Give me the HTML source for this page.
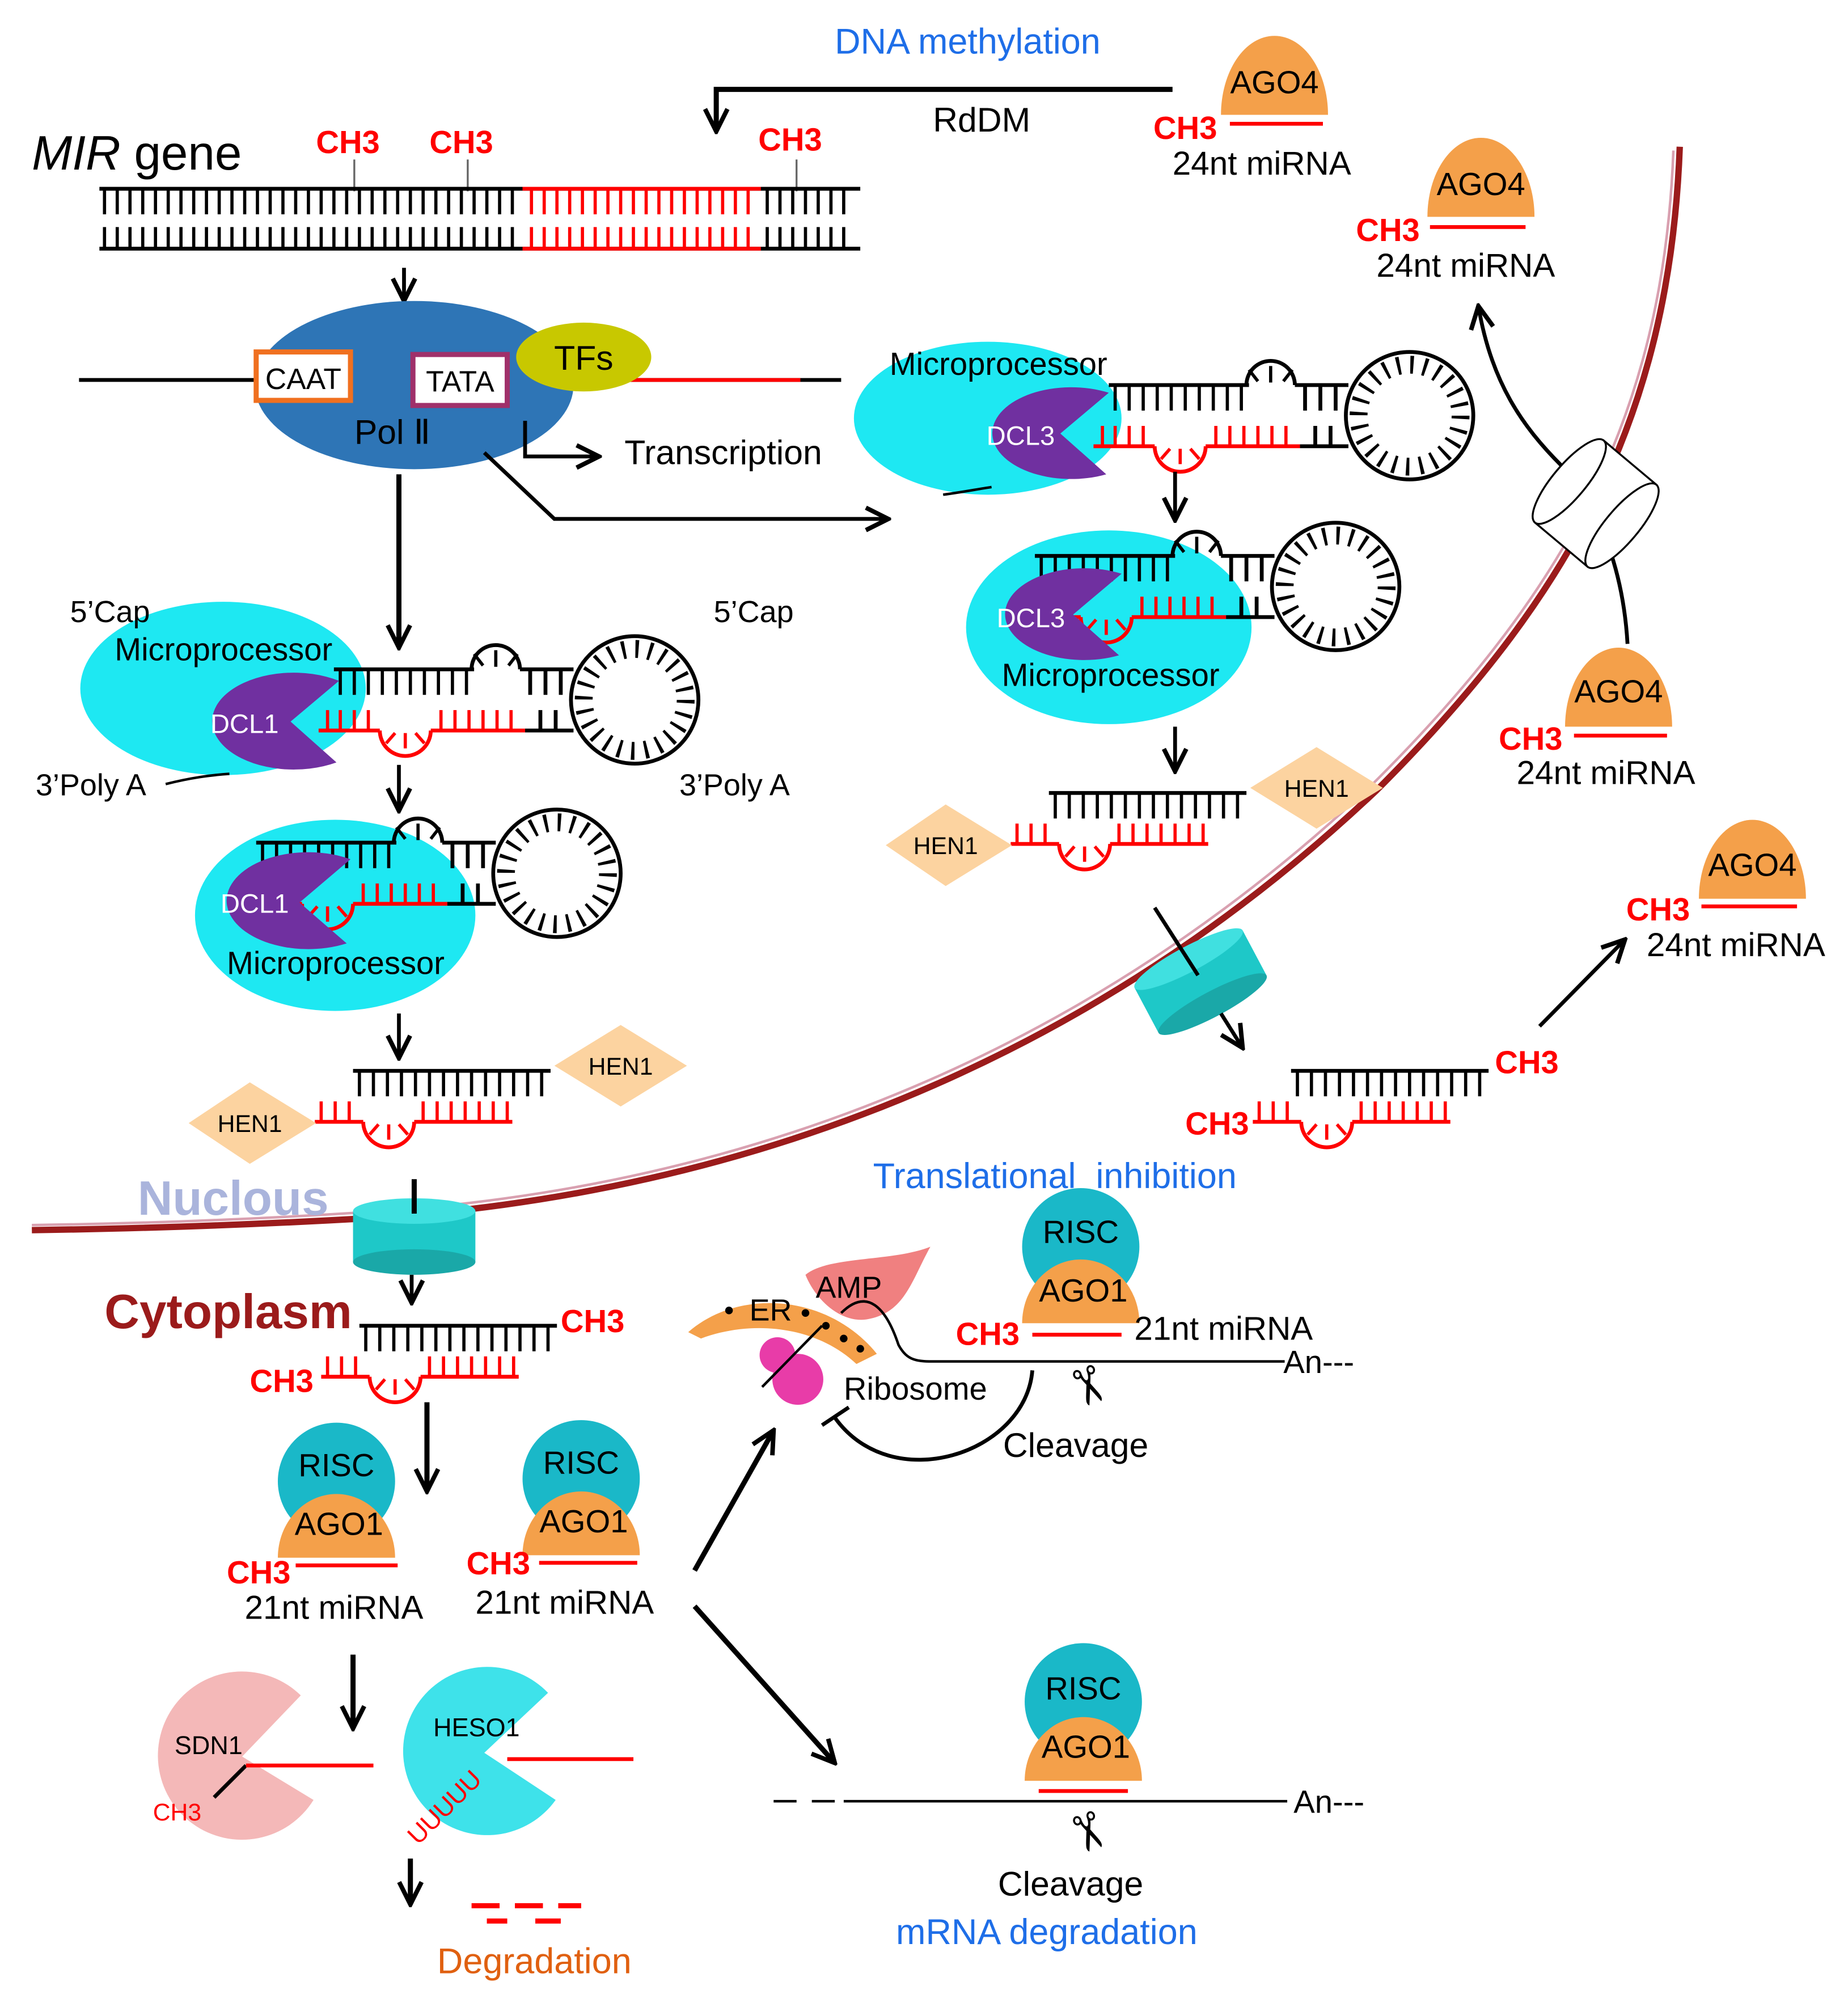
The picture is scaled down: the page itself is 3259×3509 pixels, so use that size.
<!DOCTYPE html>
<html><head><meta charset="utf-8"><style>
html,body{margin:0;padding:0;background:#fff;}
svg{display:block;}
text{font-family:"Liberation Sans",sans-serif;}
</style></head><body>
<svg width="3259" height="3509" viewBox="0 0 1450 1561" xmlns="http://www.w3.org/2000/svg">
<defs>
<marker id="arL" viewBox="0 0 10 10" markerWidth="22" markerHeight="22" refX="9" refY="5" orient="auto" markerUnits="userSpaceOnUse"><path d="M1,1 L9,5 L1,9" fill="none" stroke="#000" stroke-width="1.6"/></marker>
<g id="hp" fill="none" stroke-width="3">
<path d="M0,0H110" stroke="#000"/>
<path d="M5,0v20M16,0v20M27,0v20M38,0v20M49,0v20M60,0v20M71,0v20M82,0v20M93,0v20M104,0v20" stroke="#000" stroke-width="2.5"/>
<path d="M108,0 A19,19 0 0,1 146,0" stroke="#000"/>
<path d="M127,-2v-13M117,-3l-7,-9M137,-3l7,-9" stroke="#000" stroke-width="2.5"/>
<path d="M146,0H188M154,0v20M166,0v20M178,0v20" stroke="#000"/>
<circle cx="236" cy="24" r="50" stroke="#000"/>
<circle cx="236" cy="24" r="40" stroke="#000" stroke-width="14" stroke-dasharray="2.5 8"/>
<path d="M-12,48H36M76,48H150" stroke="#f00"/>
<path d="M-5,48v-16M5,48v-16M16,48v-16M27,48v-16M84,48v-16M95,48v-16M106,48v-16M117,48v-16M128,48v-16M139,48v-16" stroke="#f00" stroke-width="2.5"/>
<path d="M36,48 A20,20 0 0,0 76,48" stroke="#f00"/>
<path d="M56,50v12M48,50l-7,8M64,50l7,8" stroke="#f00" stroke-width="2.5"/>
<path d="M150,48H188M162,48v-16M174,48v-16" stroke="#000"/>
</g>
<g id="dx" fill="none" stroke-width="3">
<path d="M0,0H155" stroke="#000"/>
<path d="M5,0v20M16,0v20M27,0v20M38,0v20M49,0v20M60,0v20M71,0v20M82,0v20M93,0v20M104,0v20M115,0v20M126,0v20M137,0v20M148,0v20" stroke="#000" stroke-width="2.5"/>
<path d="M-30,40H8M48,40H125" stroke="#f00"/>
<path d="M-25,40v-16M-14,40v-16M-3,40v-16M55,40v-16M66,40v-16M77,40v-16M88,40v-16M99,40v-16M110,40v-16M121,40v-16" stroke="#f00" stroke-width="2.5"/>
<path d="M8,40 A20,20 0 0,0 48,40" stroke="#f00"/>
<path d="M28,42v12M20,42l-7,8M36,42l7,8" stroke="#f00" stroke-width="2.5"/>
</g>
</defs>

<path d="M1318,115 C1310,330 1230,470 1080,620 C900,790 650,930 300,955 C180,962 90,964 25,965" fill="none" stroke="#9b1b1b" stroke-width="5"/>
<path d="M1313,118 C1305,330 1225,468 1076,616 C896,786 646,926 300,950 C180,958 90,960 25,961" fill="none" stroke="#d9a0b0" stroke-width="2"/>

<text x="655" y="42" font-size="28" fill="#1e6ee8">DNA methylation</text>
<path d="M920,70H562V103" fill="none" stroke="#000" stroke-width="4" marker-end="url(#arL)"/>
<text x="732" y="103" font-size="27">RdDM</text>

<path d="M958,90 A42,62 0 0,1 1042,90 Z" fill="#f4a04a"/>
<text x="1000" y="73" font-size="25" text-anchor="middle">AGO4</text>
<path d="M965,97H1038" stroke="#f00" stroke-width="3"/>
<text x="905" y="109" font-size="25" fill="#f00" font-weight="bold">CH3</text>
<text x="920" y="137" font-size="26">24nt miRNA</text>

<path d="M1120,170 A42,62 0 0,1 1204,170 Z" fill="#f4a04a"/>
<text x="1162" y="153" font-size="25" text-anchor="middle">AGO4</text>
<path d="M1122,178H1197" stroke="#f00" stroke-width="3"/>
<text x="1064" y="189" font-size="25" fill="#f00" font-weight="bold">CH3</text>
<text x="1080" y="217" font-size="26">24nt miRNA</text>

<text x="25" y="133" font-size="38"><tspan font-style="italic">MIR</tspan> gene</text>
<text x="248" y="120" font-size="25" fill="#f00" font-weight="bold">CH3</text>
<text x="337" y="120" font-size="25" fill="#f00" font-weight="bold">CH3</text>
<text x="595" y="118" font-size="25" fill="#f00" font-weight="bold">CH3</text>
<path d="M278,125V150M367,125V150M625,125V150" stroke="#666" stroke-width="1.5"/>
<path d="M78,148H675M78,195H675" stroke="#000" stroke-width="3"/>
<path d="M410,148H597M410,195H597" stroke="#f00" stroke-width="3"/>
<path d="M82,148v20M92,148v20M102,148v20M112,148v20M122,148v20M132,148v20M142,148v20M152,148v20M162,148v20M172,148v20M182,148v20M192,148v20M202,148v20M212,148v20M222,148v20M232,148v20M242,148v20M252,148v20M262,148v20M272,148v20M282,148v20M292,148v20M302,148v20M312,148v20M322,148v20M332,148v20M342,148v20M352,148v20M362,148v20M372,148v20M382,148v20M392,148v20M402,148v20M602,148v20M612,148v20M622,148v20M632,148v20M642,148v20M652,148v20M662,148v20 M82,195v-17M92,195v-17M102,195v-17M112,195v-17M122,195v-17M132,195v-17M142,195v-17M152,195v-17M162,195v-17M172,195v-17M182,195v-17M192,195v-17M202,195v-17M212,195v-17M222,195v-17M232,195v-17M242,195v-17M252,195v-17M262,195v-17M272,195v-17M282,195v-17M292,195v-17M302,195v-17M312,195v-17M322,195v-17M332,195v-17M342,195v-17M352,195v-17M362,195v-17M372,195v-17M382,195v-17M392,195v-17M402,195v-17M602,195v-17M612,195v-17M622,195v-17M632,195v-17M642,195v-17M652,195v-17M662,195v-17" stroke="#000" stroke-width="2.5"/>
<path d="M417,148v20M427,148v20M437,148v20M447,148v20M457,148v20M467,148v20M477,148v20M487,148v20M497,148v20M507,148v20M517,148v20M527,148v20M537,148v20M547,148v20M557,148v20M567,148v20M577,148v20M587,148v20 M417,195v-17M427,195v-17M437,195v-17M447,195v-17M457,195v-17M467,195v-17M477,195v-17M487,195v-17M497,195v-17M507,195v-17M517,195v-17M527,195v-17M537,195v-17M547,195v-17M557,195v-17M567,195v-17M577,195v-17M587,195v-17" stroke="#f00" stroke-width="2.5"/>
<path d="M317,210V236" stroke="#000" stroke-width="3" marker-end="url(#arL)"/>

<path d="M62,298H660" stroke="#000" stroke-width="3"/>
<ellipse cx="325" cy="302" rx="125" ry="66" fill="#2e75b6"/>
<path d="M490,298H628" stroke="#f00" stroke-width="3"/>
<rect x="201" y="276" width="74" height="38" fill="#fff" stroke="#f07020" stroke-width="4"/>
<text x="238" y="305" font-size="23" text-anchor="middle">CAAT</text>
<rect x="324" y="278" width="74" height="40" fill="#fff" stroke="#a0306a" stroke-width="4"/>
<text x="361" y="307" font-size="23" text-anchor="middle">TATA</text>
<ellipse cx="458" cy="280" rx="53" ry="27" fill="#c8c800"/>
<text x="458" y="290" font-size="27" text-anchor="middle">TFs</text>
<text x="278" y="348" font-size="27">Pol Ⅱ</text>
<path d="M412,330V358H470" fill="none" stroke="#000" stroke-width="3" marker-end="url(#arL)"/>
<text x="490" y="364" font-size="27">Transcription</text>
<path d="M380,355L435,407H697" fill="none" stroke="#000" stroke-width="3" marker-end="url(#arL)"/>
<path d="M313,372V508" stroke="#000" stroke-width="4" marker-end="url(#arL)"/>

<!-- left hairpin 1 -->
<ellipse cx="175" cy="540" rx="112" ry="68" fill="#1ee8f2"/>
<use href="#hp" x="262" y="525"/>
<path d="M228,566 L266,534 A64,38 0 1,0 264,598 Z" fill="#7030a0"/>
<text x="165" y="575" font-size="21" fill="#fff">DCL1</text>
<text x="55" y="488" font-size="24">5’Cap</text>
<text x="90" y="518" font-size="25">Microprocessor</text>
<text x="28" y="624" font-size="24">3’Poly A</text>
<path d="M130,615 C150,610 165,608 180,607" fill="none" stroke="#000" stroke-width="2"/>
<text x="560" y="488" font-size="24">5’Cap</text>
<text x="533" y="624" font-size="24">3’Poly A</text>
<path d="M313,600V636" stroke="#000" stroke-width="3" marker-end="url(#arL)"/>

<!-- left hairpin 2 -->
<ellipse cx="263" cy="718" rx="110" ry="75" fill="#1ee8f2"/>
<use href="#hp" x="201" y="661"/>
<path d="M235,708 L275,674 A64,38 0 1,0 272,740 Z" fill="#7030a0"/>
<text x="173" y="716" font-size="21" fill="#fff">DCL1</text>
<text x="178" y="764" font-size="25">Microprocessor</text>
<path d="M313,795V830" stroke="#000" stroke-width="3" marker-end="url(#arL)"/>

<use href="#dx" x="277" y="840"/>
<path d="M487,804L539,836L487,868L435,836Z" fill="#fcd3a0"/>
<text x="487" y="843" font-size="19" text-anchor="middle">HEN1</text>
<path d="M196,849L248,881L196,913L148,881Z" fill="#fcd3a0"/>
<text x="196" y="888" font-size="19" text-anchor="middle">HEN1</text>

<text x="108" y="953" font-size="38" font-weight="bold" fill="#aab4dc">Nuclous</text>
<rect x="277" y="950" width="96" height="40" fill="#1ec8c8"/>
<ellipse cx="325" cy="990" rx="48" ry="10" fill="#1aa8a8"/>
<ellipse cx="325" cy="950" rx="48" ry="10" fill="#40e0e0"/>
<path d="M325,925V952" stroke="#000" stroke-width="4"/>
<path d="M323,1000V1022" stroke="#000" stroke-width="3" marker-end="url(#arL)"/>
<text x="82" y="1042" font-size="38" font-weight="bold" fill="#9b1b1b">Cytoplasm</text>

<!-- right hairpin 1 -->
<ellipse cx="775" cy="328" rx="105" ry="60" fill="#1ee8f2"/>
<use href="#hp" x="870" y="302"/>
<path d="M832,340 L870,308 A62,36 0 1,0 868,372 Z" fill="#7030a0"/>
<text x="774" y="349" font-size="21" fill="#fff">DCL3</text>
<text x="698" y="294" font-size="25">Microprocessor</text>
<path d="M740,388 C755,386 765,384 778,382" fill="none" stroke="#000" stroke-width="2"/>
<path d="M922,370V408" stroke="#000" stroke-width="3" marker-end="url(#arL)"/>

<!-- right hairpin 2 -->
<ellipse cx="870" cy="492" rx="112" ry="76" fill="#1ee8f2"/>
<use href="#hp" x="812" y="436"/>
<path d="M842,482 L880,450 A62,36 0 1,0 878,514 Z" fill="#7030a0"/>
<text x="782" y="492" font-size="21" fill="#fff">DCL3</text>
<text x="786" y="538" font-size="25">Microprocessor</text>
<path d="M922,570V605" stroke="#000" stroke-width="3" marker-end="url(#arL)"/>

<use href="#dx" x="823" y="622"/>
<path d="M1033,586L1085,618L1033,650L981,618Z" fill="#fcd3a0"/>
<text x="1033" y="625" font-size="19" text-anchor="middle">HEN1</text>
<path d="M742,631L794,663L742,695L695,663Z" fill="#fcd3a0"/>
<text x="742" y="670" font-size="19" text-anchor="middle">HEN1</text>

<g transform="rotate(-28 942 770)">
<rect x="894" y="750" width="96" height="40" fill="#1ec8c8"/>
<ellipse cx="942" cy="790" rx="48" ry="10" fill="#1aa8a8"/>
<ellipse cx="942" cy="750" rx="48" ry="10" fill="#40e0e0"/>
</g>
<path d="M906,712L940,765" stroke="#000" stroke-width="3"/>
<path d="M958,795L975,822" stroke="#000" stroke-width="3" marker-end="url(#arL)"/>

<use href="#dx" x="1013" y="840"/>
<text x="1173" y="842" font-size="25" fill="#f00" font-weight="bold">CH3</text>
<text x="930" y="890" font-size="25" fill="#f00" font-weight="bold">CH3</text>
<path d="M1208,805L1275,737" stroke="#000" stroke-width="3" marker-end="url(#arL)"/>

<path d="M1333,705 A42,62 0 0,1 1417,705 Z" fill="#f4a04a"/>
<text x="1375" y="687" font-size="25" text-anchor="middle">AGO4</text>
<path d="M1335,711H1410" stroke="#f00" stroke-width="3"/>
<text x="1276" y="722" font-size="25" fill="#f00" font-weight="bold">CH3</text>
<text x="1292" y="750" font-size="26">24nt miRNA</text>

<path d="M1277,505 C1275,470 1268,445 1262,428" fill="none" stroke="#000" stroke-width="3"/>
<g transform="rotate(-50 1252 395)">
<rect x="1210" y="368" width="84" height="54" fill="#fff" stroke="#000" stroke-width="1.5"/>
<ellipse cx="1252" cy="422" rx="42" ry="13" fill="#fff" stroke="#000" stroke-width="1.5"/>
<ellipse cx="1252" cy="368" rx="42" ry="13" fill="#fff" stroke="#000" stroke-width="1.5"/>
</g>
<path d="M1225,365 C1195,335 1170,300 1160,240" fill="none" stroke="#000" stroke-width="3" marker-end="url(#arL)"/>
<path d="M1228,570 A42,62 0 0,1 1312,570 Z" fill="#f4a04a"/>
<text x="1270" y="551" font-size="25" text-anchor="middle">AGO4</text>
<path d="M1235,577H1308" stroke="#f00" stroke-width="3"/>
<text x="1176" y="588" font-size="25" fill="#f00" font-weight="bold">CH3</text>
<text x="1190" y="615" font-size="26">24nt miRNA</text>

<use href="#dx" x="282" y="1040"/>
<text x="440" y="1045" font-size="25" fill="#f00" font-weight="bold">CH3</text>
<text x="196" y="1092" font-size="25" fill="#f00" font-weight="bold">CH3</text>
<path d="M335,1100V1170" stroke="#000" stroke-width="4" marker-end="url(#arL)"/>

<circle cx="264" cy="1162" r="46" fill="#1ab8c8"/>
<path d="M218,1222 A46,50 0 0,1 310,1222 Z" fill="#f4a04a"/>
<text x="264" y="1158" font-size="25" text-anchor="middle">RISC</text>
<text x="266" y="1204" font-size="25" text-anchor="middle">AGO1</text>
<path d="M232,1228H312" stroke="#f00" stroke-width="3"/>
<text x="178" y="1242" font-size="25" fill="#f00" font-weight="bold">CH3</text>
<text x="192" y="1270" font-size="26">21nt miRNA</text>

<circle cx="456" cy="1160" r="46" fill="#1ab8c8"/>
<path d="M410,1220 A46,50 0 0,1 502,1220 Z" fill="#f4a04a"/>
<text x="456" y="1156" font-size="25" text-anchor="middle">RISC</text>
<text x="458" y="1202" font-size="25" text-anchor="middle">AGO1</text>
<path d="M423,1226H500" stroke="#f00" stroke-width="3"/>
<text x="366" y="1235" font-size="25" fill="#f00" font-weight="bold">CH3</text>
<text x="373" y="1266" font-size="26">21nt miRNA</text>

<path d="M545,1232L607,1122" stroke="#000" stroke-width="4" marker-end="url(#arL)"/>
<path d="M545,1260L655,1383" stroke="#000" stroke-width="4" marker-end="url(#arL)"/>
<path d="M277,1298V1356" stroke="#000" stroke-width="4" marker-end="url(#arL)"/>

<path d="M190,1378 L236,1330 A66,66 0 1,0 246,1412 Z" fill="#f4b8b8"/>
<text x="137" y="1376" font-size="20">SDN1</text>
<path d="M168,1410L193,1385" stroke="#000" stroke-width="3"/>
<path d="M193,1385H293" stroke="#f00" stroke-width="3"/>
<text x="120" y="1428" font-size="19" fill="#f00">CH3</text>

<path d="M380,1375 L430,1328 A66,66 0 1,0 436,1412 Z" fill="#3ee2ea"/>
<text x="340" y="1362" font-size="20">HESO1</text>
<path d="M398,1380H497" stroke="#f00" stroke-width="3"/>
<text x="0" y="0" font-size="20" fill="#f00" transform="translate(328,1448) rotate(-45)">UUUUU</text>
<path d="M322,1458V1494" stroke="#000" stroke-width="4" marker-end="url(#arL)"/>
<path d="M370,1495H392M404,1495H426M438,1495H456M382,1507H398M420,1507H440" stroke="#f00" stroke-width="4"/>
<text x="343" y="1548" font-size="28" fill="#e06010">Degradation</text>

<text x="685" y="932" font-size="28" fill="#1e6ee8">Translational&#160; inhibition</text>
<circle cx="848" cy="978" r="46" fill="#1ab8c8"/>
<path d="M802,1038 A46,50 0 0,1 894,1038 Z" fill="#f4a04a"/>
<text x="848" y="975" font-size="25" text-anchor="middle">RISC</text>
<text x="850" y="1021" font-size="25" text-anchor="middle">AGO1</text>
<path d="M810,1047H880" stroke="#f00" stroke-width="3"/>
<text x="750" y="1055" font-size="25" fill="#f00" font-weight="bold">CH3</text>
<text x="890" y="1051" font-size="26">21nt miRNA</text>
<path d="M540,1045 C580,1010 650,1015 688,1062 L672,1070 C640,1040 590,1035 550,1050 Z" fill="#f4a04a"/>
<path d="M632,1000 C650,985 700,990 730,978 C715,1005 710,1030 680,1035 C660,1038 640,1020 632,1000 Z" fill="#f08080"/>
<text x="640" y="1018" font-size="24">AMP</text>
<text x="588" y="1036" font-size="24">ER</text>
<circle cx="572" cy="1028" r="3" fill="#000"/><circle cx="632" cy="1030" r="3" fill="#000"/><circle cx="648" cy="1040" r="3" fill="#000"/><circle cx="662" cy="1050" r="3" fill="#000"/><circle cx="675" cy="1058" r="3" fill="#000"/>
<circle cx="610" cy="1063" r="14" fill="#e83ca8"/>
<circle cx="626" cy="1082" r="20" fill="#e83ca8"/>
<path d="M598,1088L645,1040" stroke="#000" stroke-width="2"/>
<path d="M660,1030 C680,1010 695,1025 705,1055 C712,1068 720,1068 735,1068 H1008" fill="none" stroke="#000" stroke-width="2"/>
<text x="1007" y="1077" font-size="25">An---</text>
<text x="662" y="1098" font-size="25">Ribosome</text>
<path d="M810,1075 C805,1140 700,1175 655,1112" fill="none" stroke="#000" stroke-width="3"/>
<path d="M645,1118L666,1104" stroke="#000" stroke-width="3"/>
<text x="787" y="1143" font-size="27">Cleavage</text>
<text x="852" y="1100" font-size="40" text-anchor="middle" transform="rotate(70 852 1088)">✂</text>

<circle cx="850" cy="1335" r="46" fill="#1ab8c8"/>
<path d="M804,1397 A46,50 0 0,1 896,1397 Z" fill="#f4a04a"/>
<text x="850" y="1333" font-size="25" text-anchor="middle">RISC</text>
<text x="852" y="1379" font-size="25" text-anchor="middle">AGO1</text>
<path d="M815,1405H885" stroke="#f00" stroke-width="3"/>
<path d="M607,1413H625M637,1413H655M662,1413H1010" stroke="#000" stroke-width="2"/>
<text x="1015" y="1422" font-size="25">An---</text>
<text x="852" y="1450" font-size="40" text-anchor="middle" transform="rotate(70 852 1438)">✂</text>
<text x="783" y="1487" font-size="27">Cleavage</text>
<text x="703" y="1525" font-size="28" fill="#1e6ee8">mRNA degradation</text>
</svg>
</body></html>
